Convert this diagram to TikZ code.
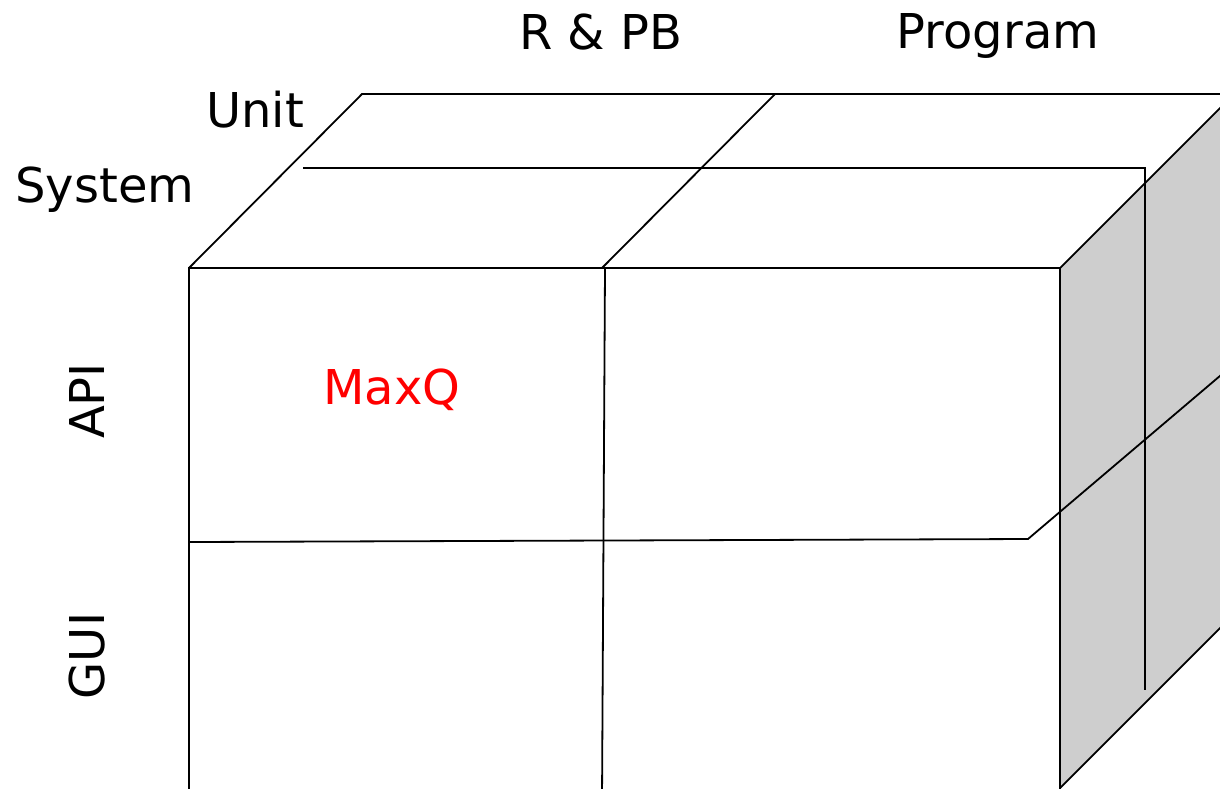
\documentclass[tikz,border=0pt]{standalone}
\usepackage{fontspec}
\setmainfont{DejaVu Sans}
\definecolor{facegray}{RGB}{206,206,206}
\begin{document}
\begin{tikzpicture}[x=1pt,y=-1pt,
  edge/.style={line width=1.8pt, line join=miter},
  lbl/.style={font=\fontsize{48pt}{57pt}\selectfont, inner sep=0pt, anchor=base}]
\useasboundingbox (0,0) rectangle (1220,788);
\clip (0,0) rectangle (1220,788);
% right (side) face
\fill[facegray] (1060,268) -- (1234,94) -- (1234,614) -- (1060,788) -- cycle;
% front face
\draw[edge] (189,800) -- (189,268) -- (1060,268) -- (1060,800);
% top face
\draw[edge] (189,268) -- (362,94) -- (1240,94);
\draw[edge] (1060,268) -- (1234,94);
\draw[edge] (1060,788) -- (1234,614);
% dividers
\draw[edge] (602,268) -- (775,94);
\draw[edge] (605,268) -- (602,800);
\draw[edge] (303,168) -- (1145,168) -- (1145,690);
\draw[edge] (189,542) -- (1028,539) -- (1234,364);
% labels
\node[lbl] (rpb) at (601,49) {R \& PB};
\node[lbl] (prog) at (998,48) {Program};
\node[lbl] (unit) at (255,127) {Unit};
\node[lbl] (sys) at (105,202) {System};
\node[lbl, rotate=90] (api) at (104,401) {API};
\node[lbl, rotate=90] (gui) at (104,656) {GUI};
\node[lbl, text=red] (maxq) at (392,404) {MaxQ};
\end{tikzpicture}
\end{document}
